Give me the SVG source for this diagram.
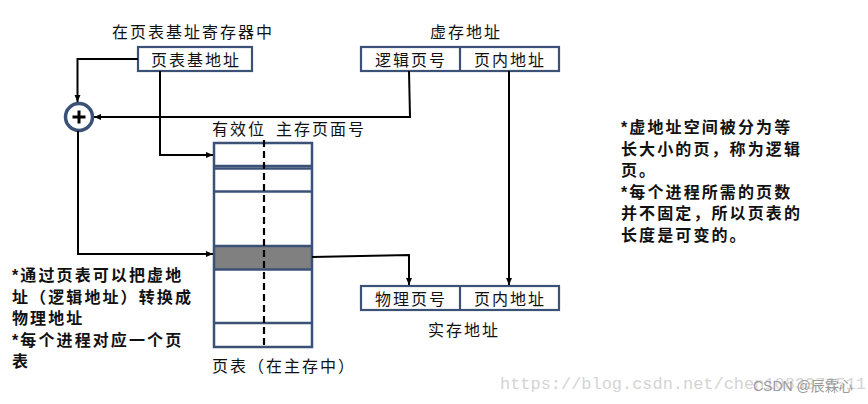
<svg xmlns="http://www.w3.org/2000/svg" width="868" height="404" viewBox="0 0 868 404">
<defs>
<style>
.lbl{font-family:"Liberation Sans","Noto Sans CJK SC",sans-serif;font-size:16px;letter-spacing:2px;fill:#111}
.note{font-family:"Liberation Sans","Noto Sans CJK SC",sans-serif;font-size:16px;font-weight:bold;letter-spacing:2.1px;fill:#111}
.box{fill:#fff;stroke:#3b5276;stroke-width:2.2}
.conn{fill:none;stroke:#000;stroke-width:2}
</style>
<marker id="ah" markerWidth="8" markerHeight="8" refX="7" refY="4" orient="auto" markerUnits="userSpaceOnUse">
<path d="M0,1 L7,4 L0,7 Z" fill="#000"/>
</marker>
</defs>
<rect width="868" height="404" fill="#fff"/>

<g id="base-register">
<text class="lbl" x="112" y="38">在页表基址寄存器中</text>
<rect class="box" x="138" y="47" width="114" height="24"/>
<text class="lbl" x="196" y="66" text-anchor="middle">页表基地址</text>
</g>

<g id="virtual-address">
<text class="lbl" x="466" y="38" text-anchor="middle">虚存地址</text>
<rect class="box" x="361" y="47" width="198" height="24"/>
<line x1="460" y1="47" x2="460" y2="71" stroke="#3b5276" stroke-width="2.2"/>
<text class="lbl" x="411" y="66" text-anchor="middle">逻辑页号</text>
<text class="lbl" x="510" y="66" text-anchor="middle">页内地址</text>
</g>

<g id="adder">
<circle cx="79" cy="117" r="13.5" fill="#fff" stroke="#3b5276" stroke-width="3.5"/>
<line x1="72.5" y1="117" x2="85.5" y2="117" stroke="#000" stroke-width="3"/>
<line x1="79" y1="110.5" x2="79" y2="123.5" stroke="#000" stroke-width="3"/>
</g>

<g id="page-table">
<text class="lbl" x="212" y="135">有效位</text>
<text class="lbl" x="276" y="135">主存页面号</text>
<rect x="214" y="246" width="98" height="23.5" fill="#808080"/>
<rect x="214" y="143" width="98" height="204" fill="none" stroke="#3b5276" stroke-width="2.5"/>
<g stroke="#3b5276" stroke-width="2.5">
<line x1="214" y1="166" x2="312" y2="166"/>
<line x1="214" y1="168.5" x2="312" y2="168.5"/>
<line x1="214" y1="191.5" x2="312" y2="191.5"/>
<line x1="214" y1="246" x2="312" y2="246"/>
<line x1="214" y1="269.5" x2="312" y2="269.5"/>
<line x1="214" y1="323" x2="312" y2="323"/>
</g>
<line x1="264" y1="140" x2="264" y2="347" stroke="#000" stroke-width="2.2" stroke-dasharray="7,4"/>
<text class="lbl" x="212" y="372">页表（在主存中）</text>
</g>

<g id="physical-address">
<rect class="box" x="361" y="286" width="198" height="24"/>
<line x1="460" y1="286" x2="460" y2="310" stroke="#3b5276" stroke-width="2.2"/>
<text class="lbl" x="411" y="305" text-anchor="middle">物理页号</text>
<text class="lbl" x="510" y="305" text-anchor="middle">页内地址</text>
<text class="lbl" x="464" y="336" text-anchor="middle">实存地址</text>
</g>

<g id="connectors">
<path class="conn" d="M138,59 H77.5 V102" marker-end="url(#ah)"/>
<path class="conn" d="M409,71 L410,117 H94" marker-end="url(#ah)"/>
<path class="conn" d="M78,131 V254 H213" marker-end="url(#ah)"/>
<path class="conn" d="M160,71 V155 H213" marker-end="url(#ah)"/>
<path class="conn" d="M312,257 L409,255 V285" marker-end="url(#ah)"/>
<path class="conn" d="M509,71 V285" marker-end="url(#ah)"/>
</g>

<g id="note-left">
<text class="note" x="12" y="281">*通过页表可以把虚地</text>
<text class="note" x="12" y="302.5">址（逻辑地址）转换成</text>
<text class="note" x="12" y="324">物理地址</text>
<text class="note" x="12" y="345.5">*每个进程对应一个页</text>
<text class="note" x="12" y="367">表</text>
</g>

<g id="note-right">
<text class="note" x="621" y="133">*虚地址空间被分为等</text>
<text class="note" x="621" y="154.5">长大小的页，称为逻辑</text>
<text class="note" x="621" y="176">页。</text>
<text class="note" x="621" y="197.5">*每个进程所需的页数</text>
<text class="note" x="621" y="219">并不固定，所以页表的</text>
<text class="note" x="621" y="240.5">长度是可变的。</text>
</g>

<g id="watermark">
<text x="500" y="389" font-family="Liberation Mono,monospace" font-size="17" fill="#d4d4d4" textLength="366" lengthAdjust="spacingAndGlyphs">https://blog.csdn.net/chen1083376511</text>
<text x="753" y="391" font-family="Liberation Sans,Noto Sans CJK SC,sans-serif" font-size="14" fill="#9a9a9a">CSDN @辰霖心</text>
</g>
</svg>
